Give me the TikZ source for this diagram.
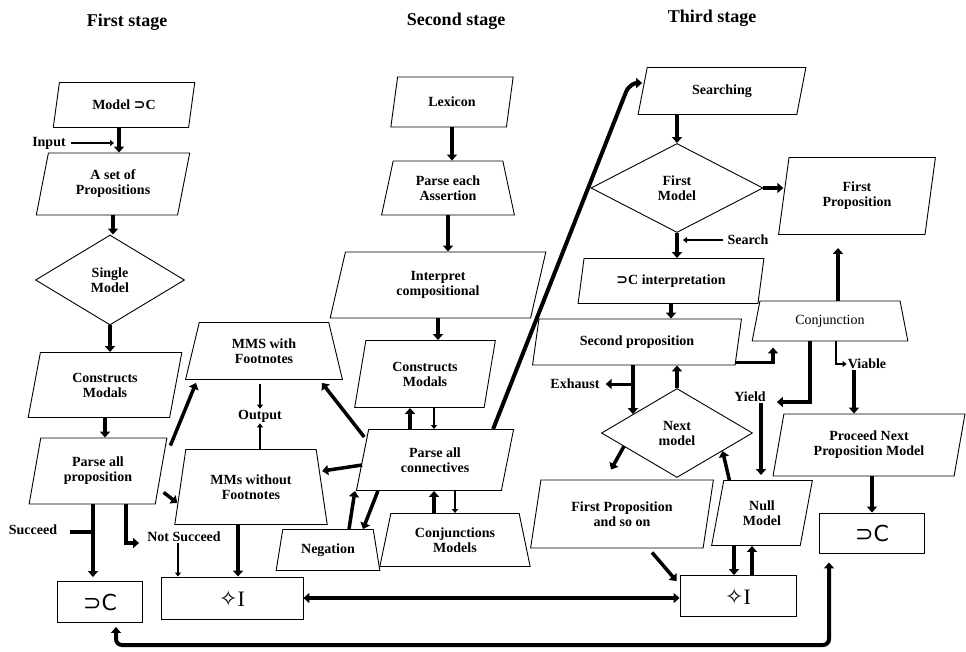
\documentclass[tikz,border=0pt]{standalone}
\usepackage{fontspec}
\setmainfont{Liberation Serif}
\newfontfamily\dejavu{DejaVu Sans}
\usetikzlibrary{arrows.meta,shapes.geometric,calc}

\begin{document}
\begin{tikzpicture}[
    x=1pt, y=-1pt,
    font=\fontsize{14}{15}\selectfont\bfseries,
    parbox/.style={draw, line width=0.9pt, trapezium, trapezium left angle=77,
      trapezium right angle=103, trapezium stretches=true, align=center, inner sep=2pt},
    trapbox/.style={parbox, trapezium left angle=76, trapezium right angle=76},
    decision/.style={draw, line width=0.9pt, diamond, align=center, inner sep=1pt},
    termbox/.style={draw, line width=0.9pt, rectangle, font=\fontsize{22}{24}\selectfont\mdseries},
    sz/.style 2 args={minimum width=#1, minimum height=#2},
    lbl/.style={inner sep=1pt},
    title/.style={inner sep=1pt, font=\fontsize{18}{20}\selectfont\bfseries},
    flow/.style={line width=3.5pt, -{Triangle[length=6pt,width=10pt]}},
    slim/.style={line width=1.8pt, -{Triangle[length=4pt,width=6pt]}},
    both/.style={line width=3.5pt, {Triangle[length=6pt,width=10pt]}-{Triangle[length=6pt,width=10pt]}}
  ]
  \useasboundingbox (0,0) rectangle (966,651);

  \node[title] (t1) at (127,22) {First stage};
  \node[title] (t2) at (456,21) {Second stage};
  \node[title] (t3) at (712,18) {Third stage};

  % first stage
  \node[parbox, sz={142}{45}] (mdlc) at (124,105) {Model {\dejavu ⊃}C};
  \node[parbox, sz={154}{62}] (propset) at (113,184) {A set of\\Propositions};
  \node[decision, sz={149}{90}] (single) at (110,280) {Single\\Model};
  \node[parbox, sz={154}{65}] (cons1) at (105,385) {Constructs\\Modals};
  \node[parbox, sz={138}{66}] (parseprop) at (98,471) {Parse all\\proposition};
  \node[termbox, sz={85}{41}] (lc) at (100,602) {\dejavu ⊃C};
  \node[termbox, sz={142}{42}] (li) at (232,598) {{\dejavu ✧}I};
  \node[trapbox, sz={157}{57}] (mmsfoot) at (264,351) {MMS with\\Footnotes};
  \node[trapbox, sz={153}{75}] (mmsnofoot) at (251,487) {MMs without\\Footnotes};
  \node[lbl] (output) at (260,416) {Output};
  \node[lbl] (input) at (49,143) {Input};
  \node[lbl] (succeed) at (33,530) {Succeed};
  \node[lbl] (notsucc) at (184,537) {Not Succeed};

  % second stage
  \node[parbox, sz={123}{50}] (lexicon) at (452,102) {Lexicon};
  \node[trapbox, sz={133}{54}] (parseeach) at (448,188) {Parse each\\Assertion};
  \node[parbox, sz={216}{66}] (interp) at (438,285) {Interpret\\compositional};
  \node[parbox, sz={141}{67}] (cons2) at (425,374) {Constructs\\Modals};
  \node[parbox, sz={158}{61}] (parseconn) at (435,460) {Parse all\\connectives};
  \node[trapbox, sz={104}{41}] (negation) at (328,550) {Negation};
  \node[trapbox, sz={151}{53}] (conjmod) at (455,540) {Conjunctions\\Models};

  % third stage
  \node[parbox, sz={168}{47}] (searching) at (722,91) {Searching};
  \node[decision, sz={172}{89}] (firstmodel) at (677,188) {First\\Model};
  \node[parbox, sz={158}{77}, trapezium left angle=80, trapezium right angle=100] (firstprop) at (857,196) {First\\Proposition};
  \node[parbox, sz={186}{45}] (cinterp) at (671,281) {{\dejavu ⊃}C interpretation};
  \node[parbox, sz={209}{46}] (secondprop) at (637,342) {Second proposition};
  \node[decision, sz={151}{89}] (nextmodel) at (677,433) {Next\\model};
  \node[parbox, sz={183}{68}] (firstsoon) at (622,514) {First Proposition\\and so on};
  \node[parbox, sz={101}{65}] (nullmodel) at (762,513) {Null\\Model};
  \node[trapbox, sz={157}{40}, font=\fontsize{14}{15}\selectfont\mdseries] (conj) at (830,321) {Conjunction};
  \node[parbox, sz={192}{62}] (proceed) at (869,445) {Proceed Next\\Proposition Model};
  \node[termbox, sz={116}{41}] (ri) at (738,596) {{\dejavu ✧}I};
  \node[termbox, sz={105}{40}] (rc) at (872,533) {\dejavu ⊃C};
  \node[lbl] (search) at (748,240) {Search};
  \node[lbl] (exhaust) at (575,384) {Exhaust};
  \node[lbl] (yield) at (750,397) {Yield};
  \node[lbl] (viable) at (867,364) {Viable};

  % first stage connectors
  \draw[flow] ([xshift=-5pt]mdlc.south) -- ([xshift=-5pt]mdlc.south |- propset.north);
  \draw[slim] ([xshift=4pt]input.east) -- ([xshift=-10pt]input.east -| mdlc.south);
  \draw[flow] (propset.south) -- (propset.south |- single.north);
  \draw[flow] (single.south) -- (single.south |- cons1.north);
  \draw[flow] (cons1.south) -- (cons1.south |- parseprop.north);
  \draw[flow] ([xshift=-5pt]parseprop.south) -- ([xshift=-5pt,yshift=4pt]parseprop.south |- lc.north);
  \draw[line width=3.5pt] ([xshift=12pt,yshift=-2pt]succeed.east) -- ([xshift=-5pt,yshift=-2pt]succeed.east -| parseprop.south);
  \draw[flow] ([xshift=28pt]parseprop.south) |- ([xshift=-7pt,yshift=-6pt]notsucc.west);
  \draw[flow] ([xshift=3pt,yshift=-8pt]parseprop.top right corner) -- ([xshift=11pt,yshift=-3pt]mmsfoot.bottom left corner);
  \draw[flow] ([xshift=8pt,yshift=12pt]parseprop.bottom right corner) -- ([xshift=3pt,yshift=22pt]mmsnofoot.bottom left corner);
  \draw[slim] ([yshift=-4pt]output.north |- mmsfoot.south) -- (output.north);
  \draw[slim] (output.south |- mmsnofoot.north) -- (output.south);
  \draw[slim] ([xshift=-6pt]notsucc.south) -- ([xshift=-6pt]notsucc.south |- li.north);
  \draw[flow] ([xshift=-13pt]mmsnofoot.south) -- ([xshift=-13pt]mmsnofoot.south |- li.north);
  \draw[both] (li.east) -- (li.east -| ri.west);
  \coordinate (bend) at (829,645);
  \draw[both, line width=4pt, rounded corners=6pt] ([xshift=16pt,yshift=-4pt]lc.south) |- (bend) -- ([xshift=-43pt,yshift=-9pt]rc.south);

  % second stage connectors
  \draw[flow] (lexicon.south) -- (lexicon.south |- parseeach.north);
  \draw[flow] (parseeach.south) -- (parseeach.south |- interp.north);
  \draw[flow] (interp.south) -- (interp.south |- cons2.north);
  \draw[flow] ([xshift=-25pt]parseconn.north) -- ([xshift=-25pt]parseconn.north |- cons2.south);
  \draw[slim] ([xshift=9pt]cons2.south) -- ([xshift=9pt]cons2.south |- parseconn.north);
  \draw[flow] ([xshift=-4pt,yshift=-8pt]parseconn.top left corner) -- ([xshift=-21pt,yshift=-3pt]mmsfoot.bottom right corner);
  \draw[flow] ([yshift=-5pt]parseconn.west) -- ([yshift=16pt]mmsnofoot.east);
  \coordinate (hook) at (626,92);
  \draw[flow, line width=4pt] ([xshift=-21pt]parseconn.top right corner) -- (hook) to[out=68,in=180] ([yshift=8pt]searching.west);
  \draw[flow] ([xshift=21pt]negation.north) -- ([xshift=-1pt]parseconn.bottom left corner);
  \draw[flow] ([xshift=22pt]parseconn.bottom left corner) -- ([xshift=35pt]negation.north);
  \draw[flow] ([xshift=-21pt]conjmod.north) -- ([xshift=-21pt]conjmod.north |- parseconn.south);
  \draw[slim] (parseconn.south -| conjmod.north) -- (conjmod.north);

  % third stage connectors
  \draw[flow] (firstmodel.north |- searching.south) -- (firstmodel.north);
  \draw[flow] (firstmodel.east) -- (firstmodel.east -| firstprop.west);
  \draw[flow] (firstmodel.south) -- (firstmodel.south |- cinterp.north);
  \draw[slim] ([xshift=-3pt]search.west) -- ([xshift=6pt]search.west -| firstmodel.south);
  \draw[flow] (cinterp.south) -- (cinterp.south |- secondprop.north);
  \draw[flow] ([yshift=3pt]secondprop.bottom right corner) -| ([xshift=-57pt,yshift=-6pt]conj.south);
  \coordinate (nmin) at ($(nextmodel.north)!0.58!(nextmodel.west)$);
  \draw[flow] (nmin |- secondprop.south) -- (nmin);
  \draw[flow, line width=3pt] (nmin |- exhaust) -- ([xshift=5pt]exhaust.east);
  \draw[flow] (nextmodel.north) -- (nextmodel.north |- secondprop.south);
  \coordinate (nmout) at ($(nextmodel.west)!0.3!(nextmodel.south)$);
  \draw[flow] (nmout) -- ([xshift=-11pt,yshift=10pt]firstsoon.north);
  \coordinate (nmback) at ($(nextmodel.east)!0.4!(nextmodel.south)$);
  \draw[flow] ([xshift=6pt]nullmodel.top left corner) -- (nmback);
  \draw[flow] ([xshift=30pt,yshift=-4pt]firstsoon.south) -- ([xshift=-3pt,yshift=-6pt]ri.north west);
  \draw[flow] ([xshift=-28pt]nullmodel.south) -- ([xshift=-28pt]nullmodel.south |- ri.north);
  \draw[flow] ([xshift=-10pt]nullmodel.south |- ri.north) -- ([xshift=-10pt]nullmodel.south);
  \draw[flow] ([xshift=-1pt]nullmodel.north |- yield.south) -- ([xshift=-1pt,yshift=5pt]nullmodel.north);
  \draw[flow] ([xshift=-20pt]conj.south) |- ([xshift=10pt,yshift=-5pt]yield.east);
  \draw[slim] ([xshift=6pt]conj.south) |- (viable.west);
  \draw[flow] ([xshift=-13pt]viable.south) -- ([xshift=-13pt]viable.south |- proceed.north);
  \draw[flow] ([xshift=8pt]conj.north) -- ([xshift=8pt,yshift=-13pt]conj.north |- firstprop.south);
  \draw[flow] (rc.north |- proceed.south) -- (rc.north);
\end{tikzpicture}
\end{document}
